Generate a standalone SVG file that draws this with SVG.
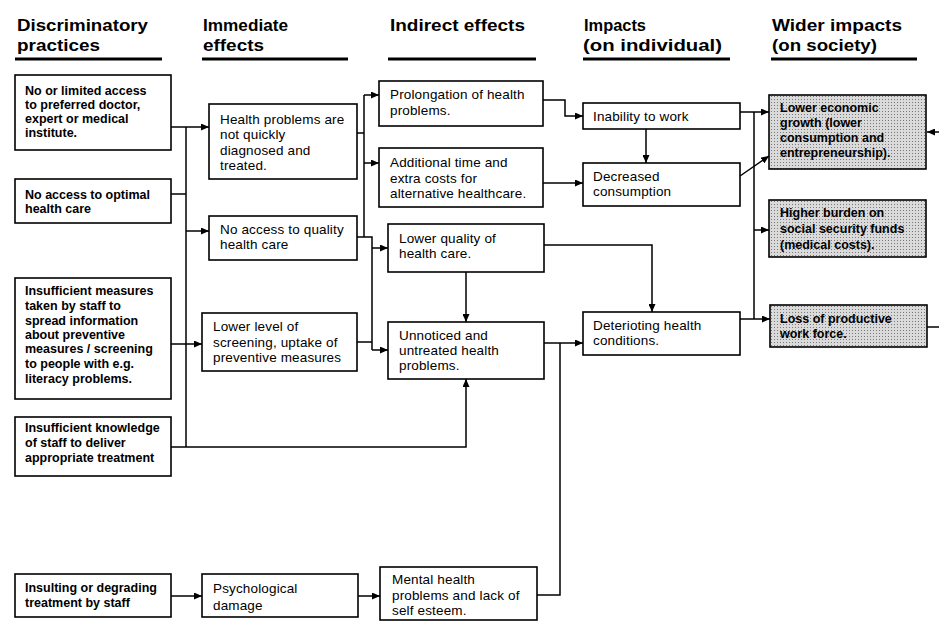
<svg xmlns="http://www.w3.org/2000/svg" width="939" height="621" viewBox="0 0 939 621">
<defs>
<style>
.hd{font-family:"Liberation Sans",Arial,sans-serif;font-size:17px;font-weight:bold;fill:#000}
.bar{fill:#000}
.box{fill:#fff;stroke:#000;stroke-width:1.6}
.sh{fill:url(#dots);stroke:#000;stroke-width:1.6}
.tb{font-family:"Liberation Sans",Arial,sans-serif;font-size:12.5px;font-weight:bold;fill:#000}
.tr{font-family:"Liberation Sans",Arial,sans-serif;font-size:13.5px;letter-spacing:0.15px;fill:#000}
.ln{fill:none;stroke:#000;stroke-width:1.5}
.ar{fill:none;stroke:#000;stroke-width:1.5;marker-end:url(#ah)}
</style>
<pattern id="dots" width="3" height="3" patternUnits="userSpaceOnUse">
<rect width="3" height="3" fill="#dadada"/>
<rect width="1" height="1" fill="#7a7a7a"/>
</pattern>
<marker id="ah" markerWidth="8" markerHeight="7" refX="8" refY="3.5" orient="auto" markerUnits="userSpaceOnUse">
<path d="M0,0 L8,3.5 L0,7 z" fill="#000"/>
</marker>
</defs>
<rect width="939" height="621" fill="#fff"/>

<g id="headers">
<text class="hd" x="17" y="31" textLength="131" lengthAdjust="spacingAndGlyphs">Discriminatory</text>
<text class="hd" x="17" y="51" textLength="83" lengthAdjust="spacingAndGlyphs">practices</text>
<rect class="bar" x="15" y="57.5" width="147" height="3"/>
<text class="hd" x="203" y="31" textLength="85" lengthAdjust="spacingAndGlyphs">Immediate</text>
<text class="hd" x="203" y="51" textLength="61" lengthAdjust="spacingAndGlyphs">effects</text>
<rect class="bar" x="202" y="57.5" width="146" height="3"/>
<text class="hd" x="390" y="31" textLength="135" lengthAdjust="spacingAndGlyphs">Indirect effects</text>
<rect class="bar" x="388" y="57.5" width="148" height="3"/>
<text class="hd" x="584" y="31" textLength="62" lengthAdjust="spacingAndGlyphs">Impacts</text>
<text class="hd" x="583" y="51" textLength="139" lengthAdjust="spacingAndGlyphs">(on individual)</text>
<rect class="bar" x="583" y="57.5" width="147" height="3"/>
<text class="hd" x="772" y="31" textLength="130" lengthAdjust="spacingAndGlyphs">Wider impacts</text>
<text class="hd" x="772" y="51" textLength="105" lengthAdjust="spacingAndGlyphs">(on society)</text>
<rect class="bar" x="771" y="57.5" width="146" height="3"/>
</g>

<g id="connectors">
<path class="ar" d="M171,127 H209"/>
<path class="ln" d="M186,127 V447"/>
<path class="ln" d="M171,194 H186"/>
<path class="ar" d="M186,231 H209"/>
<path class="ar" d="M171,344 H202"/>
<path class="ar" d="M171,447 H466 V379"/>
<path class="ln" d="M357,133 H364"/>
<path class="ln" d="M364,95 V237"/>
<path class="ar" d="M364,95 H379"/>
<path class="ar" d="M364,163 H379"/>
<path class="ln" d="M357,237 H372 V350"/>
<path class="ar" d="M372,248 H388"/>
<path class="ar" d="M372,350 H388"/>
<path class="ln" d="M357,342 H372"/>
<path class="ar" d="M466,272 V322"/>
<path class="ar" d="M544,245 H652 V312"/>
<path class="ar" d="M543,100 H565 V116 H583"/>
<path class="ar" d="M543,183 H583"/>
<path class="ar" d="M646,129 V163"/>
<path class="ar" d="M544,343 H583"/>
<path class="ln" d="M537,595 H560 V343"/>
<path class="ar" d="M740,112 H769"/>
<path class="ln" d="M754,112 V319"/>
<path class="ar" d="M754,230 H769"/>
<path class="ar" d="M740,319 H770"/>
<path class="ar" d="M740,176 L769,156"/>
<path class="ar" d="M939,132 H927"/>
<path class="ln" d="M927,327 H939"/>
<path class="ar" d="M171,596 H202"/>
<path class="ar" d="M358,596 H380"/>
</g>

<g id="p1"><rect class="box" x="15" y="75" width="156" height="75"/>
<text class="tb"><tspan x="25" y="95">No or limited access</tspan><tspan x="25" y="109">to preferred doctor,</tspan><tspan x="25" y="123">expert or medical</tspan><tspan x="25" y="137">institute.</tspan></text></g>
<g id="p2"><rect class="box" x="15" y="179" width="156" height="44"/>
<text class="tb"><tspan x="25" y="199">No access to optimal</tspan><tspan x="25" y="213">health care</tspan></text></g>
<g id="p3"><rect class="box" x="15" y="278" width="156" height="121"/>
<text class="tb"><tspan x="25" y="295">Insufficient measures</tspan><tspan x="25" y="310">taken by staff to</tspan><tspan x="25" y="325">spread information</tspan><tspan x="25" y="339">about preventive</tspan><tspan x="25" y="353">measures / screening</tspan><tspan x="25" y="368">to people with e.g.</tspan><tspan x="25" y="383">literacy problems.</tspan></text></g>
<g id="p4"><rect class="box" x="15" y="417" width="156" height="59"/>
<text class="tb"><tspan x="25" y="432">Insufficient knowledge</tspan><tspan x="25" y="447">of staff to deliver</tspan><tspan x="25" y="462">appropriate treatment</tspan></text></g>
<g id="p5"><rect class="box" x="15" y="574" width="156" height="43"/>
<text class="tb"><tspan x="25" y="592">Insulting or degrading</tspan><tspan x="25" y="607">treatment by staff</tspan></text></g>

<g id="e1"><rect class="box" x="209" y="104" width="148" height="75"/>
<text class="tr"><tspan x="220" y="124">Health problems are</tspan><tspan x="220" y="139">not quickly</tspan><tspan x="220" y="155">diagnosed and</tspan><tspan x="220" y="170">treated.</tspan></text></g>
<g id="e2"><rect class="box" x="209" y="216" width="148" height="44"/>
<text class="tr"><tspan x="220" y="234">No access to quality</tspan><tspan x="220" y="249">health care</tspan></text></g>
<g id="e3"><rect class="box" x="202" y="313" width="155" height="58"/>
<text class="tr"><tspan x="213" y="331">Lower level of</tspan><tspan x="213" y="347">screening, uptake of</tspan><tspan x="213" y="362">preventive measures</tspan></text></g>
<g id="e4"><rect class="box" x="202" y="574" width="156" height="43"/>
<text class="tr"><tspan x="213" y="593">Psychological</tspan><tspan x="213" y="610">damage</tspan></text></g>

<g id="i1"><rect class="box" x="379" y="81" width="164" height="45"/>
<text class="tr"><tspan x="390" y="99">Prolongation of health</tspan><tspan x="390" y="115">problems.</tspan></text></g>
<g id="i2"><rect class="box" x="379" y="148" width="164" height="59"/>
<text class="tr"><tspan x="390" y="167">Additional time and</tspan><tspan x="390" y="183">extra costs for</tspan><tspan x="390" y="198">alternative healthcare.</tspan></text></g>
<g id="i3"><rect class="box" x="388" y="224" width="156" height="48"/>
<text class="tr"><tspan x="399" y="243">Lower quality of</tspan><tspan x="399" y="258">health care.</tspan></text></g>
<g id="i4"><rect class="box" x="388" y="322" width="156" height="57"/>
<text class="tr"><tspan x="399" y="340">Unnoticed and</tspan><tspan x="399" y="355">untreated health</tspan><tspan x="399" y="370">problems.</tspan></text></g>
<g id="i5"><rect class="box" x="380" y="567" width="157" height="53"/>
<text class="tr"><tspan x="392" y="584">Mental health</tspan><tspan x="392" y="600">problems and lack of</tspan><tspan x="392" y="615">self esteem.</tspan></text></g>

<g id="m1"><rect class="box" x="583" y="103" width="157" height="26"/>
<text class="tr"><tspan x="593" y="121">Inability to work</tspan></text></g>
<g id="m2"><rect class="box" x="583" y="163" width="157" height="43"/>
<text class="tr"><tspan x="593" y="181">Decreased</tspan><tspan x="593" y="196">consumption</tspan></text></g>
<g id="m3"><rect class="box" x="583" y="312" width="157" height="43"/>
<text class="tr"><tspan x="593" y="330">Deterioting health</tspan><tspan x="593" y="345">conditions.</tspan></text></g>

<g id="w1"><rect class="sh" x="769" y="95" width="157" height="74"/>
<text class="tb"><tspan x="780" y="112">Lower economic</tspan><tspan x="780" y="127">growth (lower</tspan><tspan x="780" y="142">consumption and</tspan><tspan x="780" y="157">entrepreneurship).</tspan></text></g>
<g id="w2"><rect class="sh" x="769" y="200" width="157" height="57"/>
<text class="tb"><tspan x="780" y="217">Higher burden on</tspan><tspan x="780" y="233">social security funds</tspan><tspan x="780" y="249">(medical costs).</tspan></text></g>
<g id="w3"><rect class="sh" x="770" y="305" width="157" height="42"/>
<text class="tb"><tspan x="780" y="323">Loss of productive</tspan><tspan x="780" y="338">work force.</tspan></text></g>
</svg>
